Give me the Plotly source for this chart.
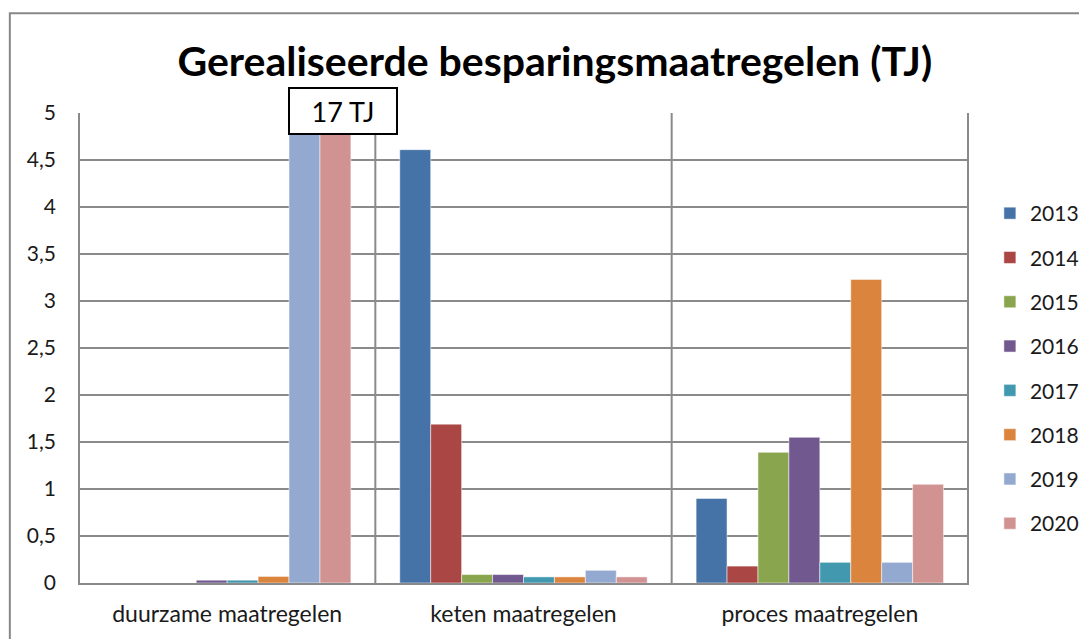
import plotly.graph_objects as go

categories = ["duurzame maatregelen", "keten maatregelen", "proces maatregelen"]
years = ["2013", "2014", "2015", "2016", "2017", "2018", "2019", "2020"]
v2013 = [0.0, 4.61, 0.90]
v2014 = [0.0, 1.69, 0.18]
v2015 = [0.0, 0.09, 1.39]
v2016 = [0.03, 0.09, 1.55]
v2017 = [0.03, 0.065, 0.22]
v2018 = [0.07, 0.065, 3.23]
v2019 = [17.0, 0.135, 0.22]
v2020 = [17.0, 0.065, 1.05]
series = [v2013, v2014, v2015, v2016, v2017, v2018, v2019, v2020]
colors = ["#4572A7", "#AA4643", "#89A54E", "#71588F", "#4198AF", "#DB843D", "#93A9CF", "#D19392"]
y_ticks = [0, 0.5, 1, 1.5, 2, 2.5, 3, 3.5, 4, 4.5, 5]

FONT = "Lato"
GRID = "#8a8a8a"

fig = go.Figure()
for yr, vals, c in zip(years, series, colors):
    fig.add_trace(go.Bar(
        x=categories, y=vals, name=yr, marker_color=c,
        marker_line=dict(color="rgba(255,255,255,0.5)", width=1),
        legendgroup=yr,
    ))

shapes = []
for xb in [-0.5, 0.5, 1.5, 2.5]:
    shapes.append(dict(type="line", xref="x", yref="paper", x0=xb, x1=xb, y0=0, y1=1,
                       line=dict(color=GRID, width=2), layer="below"))
# outer chart frame
shapes.append(dict(type="rect", xref="paper", yref="paper", x0=-0.0765, x1=1.5, y0=-0.5, y1=1.212,
                   line=dict(color="#888888", width=2), fillcolor="rgba(0,0,0,0)", layer="below"))

fig.update_layout(
    width=1079, height=631,
    margin=dict(l=70, r=118, t=105, b=54),
    paper_bgcolor="white", plot_bgcolor="white",
    separators=",.",
    barmode="group", bargap=0.165, bargroupgap=0,
    font=dict(family=FONT, color="#1a1a1a", size=21),
    title=dict(text="<b>Gerealiseerde besparingsmaatregelen (TJ)</b>", x=0.5068, xanchor="center",
               xref="container", y=0.9144, yanchor="middle",
               font=dict(family=FONT, size=41, color="black")),
    xaxis=dict(showgrid=False, showline=True, linecolor=GRID, linewidth=2, ticks="",
               tickfont=dict(family=FONT, size=23, color="#1a1a1a"), ticklabelstandoff=9),
    yaxis=dict(range=[0, 5], tickvals=y_ticks, showgrid=True, gridcolor=GRID, gridwidth=2,
               zeroline=False, showline=False, ticks="",
               tickfont=dict(family=FONT, size=21, color="#1a1a1a"), ticklabelstandoff=21),
    legend=dict(xref="container", yref="container", x=0.910, y=0.7068,
                xanchor="left", yanchor="top", tracegroupgap=14, maxheight=600,
                font=dict(family=FONT, size=21, color="#1a1a1a"), itemwidth=30),
    shapes=shapes,
    annotations=[dict(text="17 TJ", xref="x", yref="paper", x=0.392, y=1.005,
                      showarrow=False, font=dict(family=FONT, size=27, color="black"),
                      bgcolor="white", bordercolor="black", borderwidth=2,
                      width=104, height=42, xanchor="center", yanchor="middle")],
)

fig.write_html("out.html")
